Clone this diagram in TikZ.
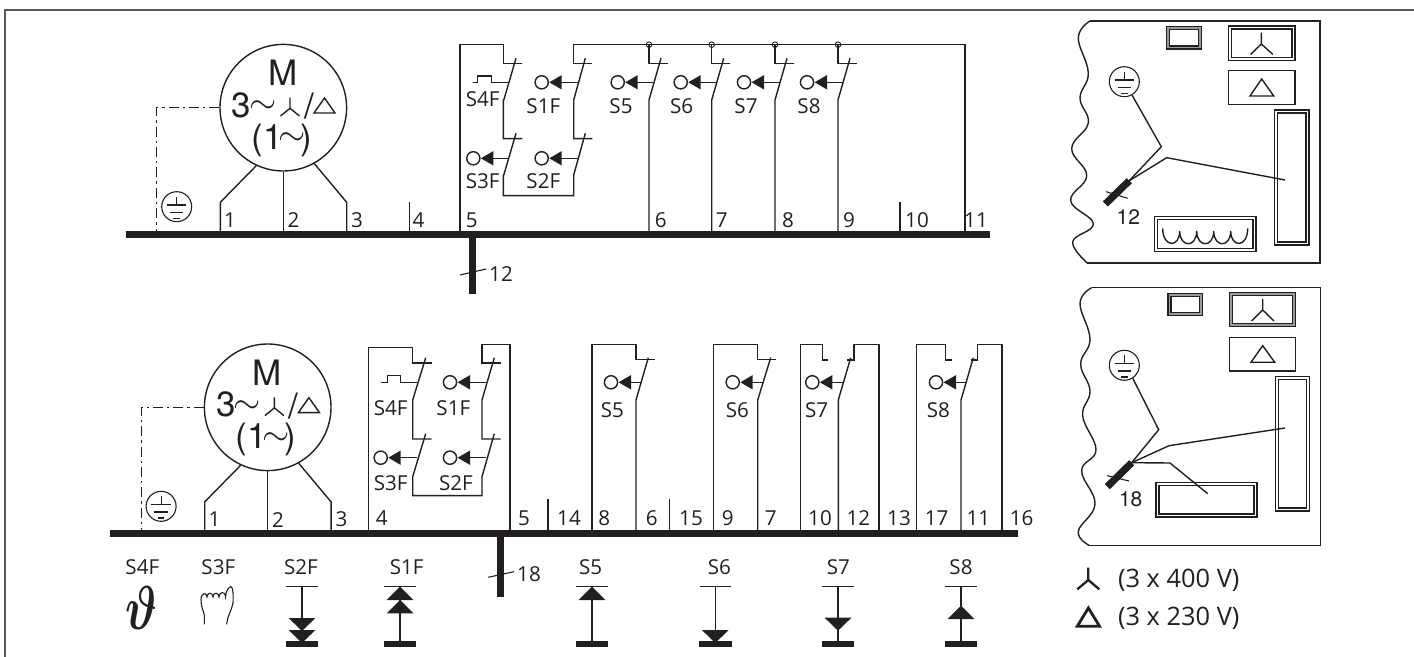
\documentclass[tikz,border=0pt]{standalone}
\usepackage{fontspec}
\usetikzlibrary{calc}
\setmainfont{Open Sans}
\newfontfamily\hvf{TeX Gyre Heros}
\definecolor{ink}{HTML}{231F20}
\tikzset{
 wire/.style={draw=ink,line width=0.7pt,line join=miter},
 lab/.style={inner sep=0pt,text=ink,font=\fontsize{10.3}{12}\selectfont},
 hlab/.style={inner sep=0pt,text=ink,font=\hvf\fontsize{10.5}{12}\selectfont},
 mtxt/.style={inner sep=0pt,text=ink,font=\hvf\fontsize{17.5}{20}\selectfont},
 tilde/.style={inner sep=0pt,text=ink,scale=1.75},
 motc/.style={circle,draw=ink,line width=0.7pt,minimum size=63.3pt,inner sep=0pt},
 actc/.style={circle,draw=ink,line width=0.7pt,minimum size=6.6pt,inner sep=0pt},
 earthc/.style={circle,draw=ink,line width=0.55pt,minimum size=15pt,inner sep=0pt},
 thinw/.style={draw=ink,line width=0.55pt},
 ddash/.style={draw=ink,line width=0.6pt,dash pattern=on 5pt off 2pt on 1.2pt off 2pt},
}
\newcommand{\actu}[4]{%
 \node[actc] (#1) at (#2,#3) {};
 \fill[ink] (#2,#3) ++(7.6,0) -- ++(12.4,7.2) -- ++(0,-14.4) -- cycle;
 \draw[wire] (#2,#3) ++(19,0) -- (#4,#3);}
\newcommand{\earthsym}[3]{%
 \node[earthc] (#1) at (#2,#3) {};
 \draw[thinw] (#2,#3) ++(0,-10) -- ++(0,8.3) ++(-9.7,0) -- ++(19.4,0) ++(-16.4,7.4) -- ++(13.4,0) ++(-10,6) -- ++(6.6,0);}
\newcommand{\motorblk}[1]{%
 \node[motc] (#1mot) at (283.3,107.7) {};
 \draw[ddash] (#1mot.west) -- (156.7,107.7) -- (156.7,231);
 \earthsym{#1earth}{176.7}{206.7}
 \draw[wire] (220.3,231) -- (220.3,202.3) -- (#1mot.-115);
 \draw[wire] (283.3,231) -- (#1mot.south);
 \draw[wire] (346.7,231) -- (346.7,202.3) -- (#1mot.-61);
 \node[mtxt] (#1M) at (283,72.7) {M};
 \node[mtxt] (#1three) at (241.7,105) {3};
 \node[tilde] (#1tilA) at (263,107) {$\sim$};
 \draw[wire] (290,97.7) -- (290,108.3) (280.5,116) -- (290,108.3) -- (299.5,116);
 \node[mtxt] (#1slash) at (309,106) {/};
 \draw[wire] (324.5,98) -- (335,113) -- (314,113) -- cycle;
 \node[mtxt] (#1lp) at (267,140) {(1};
 \node[tilde] (#1tilB) at (292,139) {$\sim$};
 \node[mtxt] (#1rp) at (306,140) {)};
 \node[lab] (#1one) at (230,220) {1};
 \node[lab] (#1two) at (293.5,220) {2};
 \node[lab] (#1thr) at (357,220) {3};
}
\newcommand{\dbl}[5][white]{%
 \draw[wire,fill=#1] (#2,#3) rectangle (#4,#5);
 \draw[wire,fill=white] ($(#2,#3)+(3,3)$) rectangle ($(#4,#5)+(-3,-3)$);}
\newcommand{\dirbars}[1]{%
 \draw[wire] (#1,586.7) ++(-15.8,0) -- ++(31.6,0);
 \draw[wire] (#1,586.7) -- (#1,641);
 \fill[ink] (#1,640.7) ++(-16.4,0) rectangle ++(32.8,6);}
\newcommand{\tridn}[2]{\fill[ink] (#1,#2) ++(-13.4,0) -- ++(26.8,0) -- ++(-13.4,13) -- cycle;}
\newcommand{\triup}[2]{\fill[ink] (#1,#2) -- ++(13.4,13.4) -- ++(-26.8,0) -- cycle;}
\begin{document}
\begin{tikzpicture}[x=0.5pt,y=-0.5pt]
\useasboundingbox (0,0) rectangle (1414,657);
% outer frame
\draw[draw=black!65,line width=0.8pt] (5,657) -- (5,10) -- (1414,10);
% ===== top row
\motorblk{t}
\fill[ink] (126,231) rectangle (990,237.7);
\fill[ink] (469,237) rectangle (476,294);
\draw[thinw] (460,275) -- (486,269);
\node[lab] (tl12) at (501,274) {12};
\draw[wire] (409.3,231) -- (409.3,202.5);
\draw[wire] (900,231) -- (900,202.5);
\draw[wire] (460,231) -- (460,44.7) -- (503.3,44.7) -- (503.3,63.3) -- (522.3,63.3);
\draw[wire] (516,58.3) -- (503.8,100) -- (503.3,100) -- (503.3,138.7) -- (522.3,138.7);
\draw[wire] (516,133.3) -- (503.8,175) -- (503.3,175) -- (503.3,195.7) -- (573.7,195.7) -- (573.7,175) -- (585.3,133.3);
\draw[wire] (592.3,138.7) -- (573.7,138.7) -- (573.7,100) -- (585.3,58.3);
\draw[wire] (592.3,63.3) -- (573.7,63.3) -- (573.7,44.7) -- (965,44.7) -- (965,231);
\foreach \n/\xx in {a/649,b/711.7,c/775,d/838}{
 \node[circle,draw=ink,line width=0.45pt,minimum size=2.8pt,inner sep=0pt] (tj\n) at (\xx,44.7) {};
 \draw[wire] (\xx,44.7) -- (\xx,63.3) -- ++(18.7,0);
 \draw[wire] (\xx,231) -- (\xx,100) -- ++(12,-41.7);
}
\draw[wire] (472.7,82.3) -- (477.7,82.3) -- (477.7,76) -- (491.7,76) -- (491.7,82.3) -- (508.3,82.3);
\actu{ta1}{541.7}{82.3}{578.3}
\actu{ta5}{617.7}{82.3}{653.3}
\actu{ta6}{680.7}{82.3}{716}
\actu{ta7}{744}{82.3}{779.5}
\actu{ta8}{807}{82.3}{842.5}
\actu{ta3}{473.3}{158.3}{509}
\actu{ta2}{541.7}{158.3}{578.3}
\node[lab] (tS4F) at (482.7,99.5) {S4F};
\node[lab] (tS1F) at (543.3,106) {S1F};
\node[lab] (tS5) at (621,106.5) {S5};
\node[lab] (tS6) at (681.7,106.5) {S6};
\node[lab] (tS7) at (746,106.5) {S7};
\node[lab] (tS8) at (809,106.5) {S8};
\node[lab] (tS3F) at (482.7,181.5) {S3F};
\node[lab] (tS2F) at (543.3,181.5) {S2F};
\foreach \t/\xx in {4/418.5,5/471.7,6/660.7,7/721.7,8/788,9/849,10/917,11/976}{
 \node[lab] (tn\t) at (\xx,220) {\t};
}
% ===== bottom row
\begin{scope}[shift={(-15.6,299.6)}]
\motorblk{b}
\end{scope}
\fill[ink] (110,530) rectangle (1017.7,537);
\fill[ink] (497.3,537) rectangle (504,596.7);
\draw[thinw] (488.3,577.3) -- (514,571.7);
\node[lab] (bl18) at (529,574) {18};
\draw[wire] (368.3,530) -- (368.3,347.3) -- (412.7,347.3) -- (412.7,363) -- (431.7,363);
\draw[wire] (425.7,357.7) -- (412.7,400) -- (412.7,439) -- (431.7,439);
\draw[wire] (425.7,433.7) -- (412.7,476.7) -- (412.7,495.7) -- (482,495.7) -- (482,476.7) -- (494.3,433.7);
\draw[wire] (500.7,439) -- (482,439) -- (482,400) -- (494.3,357.7);
\draw[wire] (500.7,363) -- (482,363) -- (482,344.3) -- (510,344.3) -- (510,530);
\draw[wire] (381,382.3) -- (387.7,382.3) -- (387.7,375.7) -- (400.7,375.7) -- (400.7,382.3) -- (417.3,382.3);
\actu{ba1}{450}{382.3}{486}
\actu{ba3}{380.7}{457.7}{417.3}
\actu{ba2}{450}{457.7}{486}
\draw[wire] (548,530) -- (548,499);
\draw[wire] (669.7,530) -- (669.7,499);
\draw[wire] (592,530) -- (592,344.3) -- (636,344.3) -- (636,359.3) -- (654.7,359.3);
\draw[wire] (648.3,357.7) -- (636,400) -- (636,530);
\actu{ba5}{611}{382.3}{641.5}
\draw[wire] (713.7,530) -- (713.7,344.3) -- (757.7,344.3) -- (757.7,359.3) -- (776,359.3);
\draw[wire] (770.7,357.7) -- (757.7,400) -- (757.7,530);
\actu{ba6}{732.7}{382.3}{763.5}
\draw[wire] (800.3,530) -- (800.3,344.3) -- (822.7,344.3) -- (822.7,360) -- (828.3,360);
\draw[wire] (838.3,530) -- (838.3,400) -- (850.7,357.7);
\draw[wire] (847.3,360) -- (854,360) -- (854,344.3) -- (879,344.3) -- (879,530);
\actu{ba7}{812.3}{382.3}{844}
\draw[wire] (916.7,530) -- (916.7,344.3) -- (945.7,344.3) -- (945.7,360) -- (951.7,360);
\draw[wire] (961,530) -- (961,400) -- (973.3,357.7);
\draw[wire] (970.7,360) -- (977.3,360) -- (977.3,344.3) -- (1002,344.3) -- (1002,530);
\actu{ba8}{936}{382.3}{966.5}
\node[lab] (bS4F) at (390.7,408.3) {S4F};
\node[lab] (bS1F) at (453.3,408.3) {S1F};
\node[lab] (bS3F) at (390.7,483.3) {S3F};
\node[lab] (bS2F) at (456,483.3) {S2F};
\node[lab] (bS5) at (612.3,410) {S5};
\node[lab] (bS6) at (737.3,410) {S6};
\node[lab] (bS7) at (816.7,410) {S7};
\node[lab] (bS8) at (938.3,410) {S8};
\foreach \t/\xx in {4/381.7,5/524,14/569,8/604.3,6/651.7,15/691,9/727.7,7/770.7,10/820,12/858.3,13/899,17/936.7,11/978.3,16/1021.7}{
 \node[lab] (bn\t) at (\xx,518) {\t};
}
% ===== key row
\node[lab] (kS4F) at (142.3,567.3) {S4F};
\node[lab] (kS3F) at (218.3,567.3) {S3F};
\node[lab] (kS2F) at (301,567.3) {S2F};
\node[lab] (kS1F) at (406.7,567.3) {S1F};
\node[lab] (kS5) at (590.7,567.3) {S5};
\node[lab] (kS6) at (719.3,567.3) {S6};
\node[lab] (kS7) at (838.3,567.3) {S7};
\node[lab] (kS8) at (961,567.3) {S8};
\node[inner sep=0pt,text=ink,xscale=2.3,yscale=3.1] (ktheta) at (141.7,608) {\mbox{\boldmath$\vartheta$}};
\draw[thinw] (204.3,624.3) -- (204.3,615) .. controls (203,610) and (201,606) .. (201,600)
 .. controls (201,592) and (207,592) .. (207,597) .. controls (207,592) and (213,592) .. (213,597)
 .. controls (213,592) and (219,592) .. (219,597) .. controls (219,592) and (225,590) .. (225.5,597)
 .. controls (226,590) and (229,587) .. (231,586.7) .. controls (233,587) and (233.5,595) .. (233,603)
 .. controls (232,610) and (226.7,617) .. (226.7,624.3);
\dirbars{302}\tridn{302}{618}\tridn{302}{630}
\dirbars{400}\triup{400}{586.7}\triup{400}{600}
\dirbars{592}\triup{592}{586.7}
\dirbars{715.3}\tridn{715.3}{630}
\dirbars{838}\tridn{838}{617.7}
\dirbars{961}\triup{961}{605.7}
% ===== upper board
\draw[wire] plot[smooth,tension=0.7] coordinates {(1090,21) (1078.3,37.7) (1088.3,73) (1080,98) (1088.3,123) (1071.7,148.5) (1086.7,175.7) (1070.7,200.8) (1093.3,223.8) (1072.7,241.8) (1087.3,263)};
\draw[wire] (1090,21) -- (1320,21) -- (1320,263) -- (1087.3,263);
\dbl[black!40]{1166.3}{26.7}{1201.7}{49}
\dbl{1228.3}{26}{1295}{60.7}
\draw[wire] (1261.3,32.7) -- (1261.3,44) (1250.7,54.3) -- (1261.3,44) -- (1272.7,54.3);
\draw[wire] (1228.3,70.7) rectangle (1295,104.7);
\draw[wire] (1261.7,79) -- (1273.7,96) -- (1250,96) -- cycle;
\dbl{1274.7}{110}{1309}{245}
\dbl{1154.3}{216.7}{1256}{251.3}
\draw[wire] (1162.7,228.3) .. controls (1162.7,248) and (1179.7,248) .. (1179.7,231)
 .. controls (1179.7,248) and (1196.7,248) .. (1196.7,231)
 .. controls (1196.7,248) and (1213.7,248) .. (1213.7,231)
 .. controls (1213.7,248) and (1230.7,248) .. (1230.7,231)
 .. controls (1230.7,248) and (1247.7,248) .. (1247.7,228.3);
\earthsym{uearth}{1124.3}{81.7}
\coordinate (ucable) at (1129.3,180.7);
\draw[wire] (uearth.-60) -- (1161.3,146.7) -- (ucable);
\draw[wire] (ucable) -- (1166.7,157.7) -- (1285,180);
\draw[draw=ink,line width=3.6pt] (ucable) -- (1105.3,204);
\draw[thinw] (1106,191.7) -- (1127.7,198.3);
\node[hlab] (ul12) at (1128.3,216.7) {12};
% ===== lower board
\draw[wire] plot[smooth,tension=0.7] coordinates {(1091.7,287.7) (1080,303.3) (1090,339) (1080.7,364) (1090,391) (1082.7,416) (1096,450) (1081.7,470.7) (1095,504) (1078.3,531.4) (1089.3,545.5)};
\draw[wire] (1091.7,287.7) -- (1320.7,287.7) -- (1320.7,545.5) -- (1089.3,545.5);
\dbl[black!40]{1168}{293.3}{1202.7}{315.3}
\dbl[black!40]{1229.3}{292.7}{1295.7}{326.7}
\draw[wire] (1262.7,299) -- (1262.7,310) (1251.7,321) -- (1262.7,310) -- (1274,321);
\draw[wire] (1229.3,337.3) rectangle (1295.7,371);
\draw[wire] (1262.7,345.7) -- (1274.7,362.3) -- (1251,362.3) -- cycle;
\dbl{1275.7}{376.7}{1309.7}{511}
\dbl{1156}{482.7}{1257}{517}
\earthsym{learth}{1124.3}{365.3}
\coordinate (lcable) at (1131.7,462.7);
\draw[wire] (learth.-57) -- (1158.7,429.7) -- (lcable);
\draw[wire] (lcable) -- (1169,445.7) -- (1285,428);
\draw[wire] (lcable) -- (1170,463) -- (1207.7,493.7);
\draw[draw=ink,line width=3.6pt] (lcable) -- (1107.3,486.7);
\draw[thinw] (1107.3,475.7) -- (1129,481);
\node[hlab] (ll18) at (1130.7,499.3) {18};
% ===== legend
\draw[draw=ink,line width=1.15pt] (1088.3,567.5) -- (1088.3,580) (1077.3,589.3) -- (1088.3,580) -- (1099.3,589.3);
\draw[draw=ink,line width=1.4pt] (1088.4,608) -- (1099.5,626.2) -- (1077.3,626.2) -- cycle;
\node[inner sep=0pt,text=ink,anchor=west,font=\fontsize{12.7}{14}\selectfont] (leg1) at (1117.7,580.7) {(3 x 400 V)};
\node[inner sep=0pt,text=ink,anchor=west,font=\fontsize{12.7}{14}\selectfont] (leg2) at (1117.7,618.3) {(3 x 230 V)};
\end{tikzpicture}
\end{document}
